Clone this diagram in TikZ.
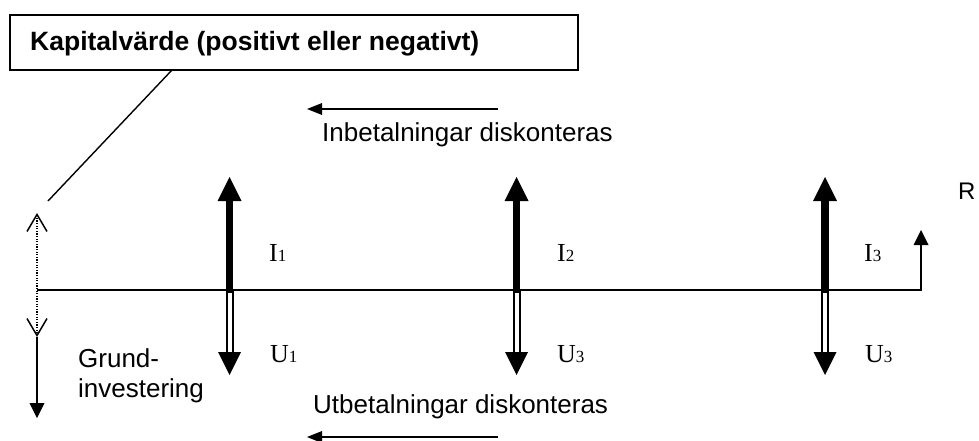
\documentclass[tikz,border=0pt]{standalone}
\usepackage{fontspec}
\setmainfont{Liberation Sans}
\newfontfamily\serifl{Liberation Serif}
\usetikzlibrary{arrows.meta}
\newcommand\lowdig[1]{{\fontsize{17}{17}\selectfont #1}}
\begin{document}
\begin{tikzpicture}[x=1pt,y=-1pt,
  thinl/.style={line width=1.4pt},
  sans/.style={font=\fontsize{26}{31}\selectfont, inner sep=0pt, anchor=base west},
  ser/.style={font=\serifl\fontsize{26}{30}\selectfont, inner sep=0pt, anchor=base west},
  bigup/.style={line width=7.5pt, -{Triangle[width=24pt,length=24pt,line width=0pt]}},
  smalltip/.style={-{Triangle[width=15pt,length=15pt,line width=0pt]}},
  leftarr/.style={line width=1.4pt, -{Triangle[width=12pt,length=15pt,line width=0pt]}}]
\useasboundingbox (0,0) rectangle (979,441);
% box
\node[draw, line width=2pt, minimum width=568pt, minimum height=55pt, anchor=north west, inner sep=0pt] (box) at (9,14) {};
\node[sans, font=\bfseries\fontsize{26.5}{31}\selectfont] (kaptext) at (30,51) {Kapitalvärde (positivt eller negativt)};
\coordinate (kapfoot) at (172,70);
\coordinate (kapend) at (48,201);
\draw[thinl] (kapfoot) -- (kapend);
% discount arrows
\coordinate (ia1) at (498,109); \coordinate (ia2) at (307,109);
\draw[leftarr] (ia1) -- (ia2);
\node[sans] (intext) at (322,142) {Inbetalningar diskonteras};
\coordinate (ua1) at (498,437); \coordinate (ua2) at (307,437);
\draw[leftarr] (ua1) -- (ua2);
\node[sans] (uttext) at (313,413) {Utbetalningar diskonteras};
% axis
\coordinate (o) at (37,290);
\coordinate (ae) at (921,290);
\coordinate (at) at (921,230);
\draw[thinl, smalltip] (o) -- (ae) -- (at);
\node[sans, font=\fontsize{24}{28}\selectfont] (R) at (958,199) {R};
% dotted and grundinvestering
\coordinate (dt) at (37,213);
\coordinate (db) at (37,337);
\coordinate (gb) at (37,418);
\draw[line width=1.2pt, dash pattern=on 1.2pt off 1.4pt,
  {Straight Barb[width=20pt,length=17pt,line width=1.5pt]}-{Straight Barb[width=20pt,length=17pt,line width=1.5pt]}] (dt) -- (db);
\draw[thinl, smalltip] (db) -- (gb);
\node[sans] (grund1) at (78,367) {Grund-};
\node[sans] (grund2) at (78,397) {investering};
% cash flow arrows
\foreach \n/\x in {1/229.5, 2/516.5, 3/825} {
  \coordinate (up\n b) at (\x,293);
  \coordinate (up\n t) at (\x,177);
  \draw[bigup] (up\n b) -- (up\n t);
  \coordinate (dl\n a) at (\x-3,291); \coordinate (dl\n b) at (\x-3,353);
  \coordinate (dr\n a) at (\x+3,291); \coordinate (dr\n b) at (\x+3,353);
  \draw[line width=2pt] (dl\n a) -- (dl\n b);
  \draw[line width=2pt] (dr\n a) -- (dr\n b);
  \fill (\x-11.5,352) -- (\x+11.5,352) -- (\x,375) -- cycle;
}
\node[ser] (i1) at (269,261) {I\lowdig{1}};
\node[ser] (i2) at (557,261) {I\lowdig{2}};
\node[ser] (i3) at (864,261) {I\lowdig{3}};
\node[ser] (u1) at (270,362) {U\lowdig{1}};
\node[ser] (u2) at (557,362) {U\lowdig{3}};
\node[ser] (u3) at (865,362) {U\lowdig{3}};
\end{tikzpicture}
\end{document}
